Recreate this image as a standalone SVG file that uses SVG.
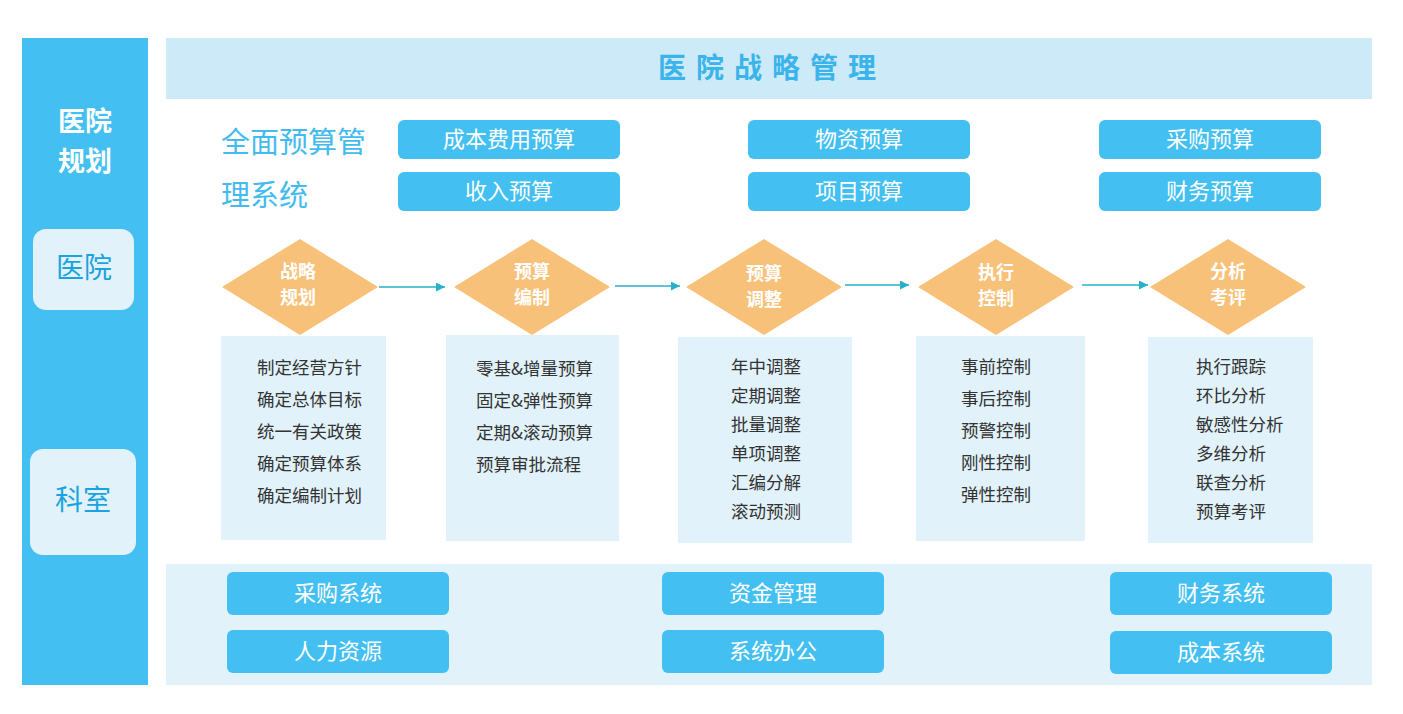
<svg xmlns="http://www.w3.org/2000/svg" width="1403" height="714" viewBox="0 0 1403 714">
<style>
text{font-family:"Noto Sans CJK SC","Noto Sans",sans-serif;dominant-baseline:central}
.side{fill:#43C0F1}
.wt{fill:#fff}
.btn{fill:#43C0F1}
.bt{fill:#fff;font-size:22px;text-anchor:middle}
.dia{fill:#F8C179}
.dt{fill:#fff;font-size:18px;font-weight:bold;text-anchor:middle}
.card{fill:#E1F2FB}
.ct{fill:#333;font-size:17.5px}
.con{stroke:#2AAFC8;stroke-width:1.3;fill:none}
</style>
<defs>
<marker id="ah" viewBox="0 0 10 10" refX="10" refY="5" markerWidth="9" markerHeight="9" markerUnits="userSpaceOnUse" orient="auto"><path d="M0,0 L10,5 L0,10 z" fill="#2AAFC8"/></marker>
</defs>
<rect width="1403" height="714" fill="#fff"/>
<g id="sidebar">
<rect class="side" x="22" y="38" width="126" height="647"/>
<text class="wt" x="85" y="119" font-size="27" font-weight="bold" text-anchor="middle">医院</text>
<text class="wt" x="85" y="159" font-size="27" font-weight="bold" text-anchor="middle">规划</text>
</g>
<g id="side-hospital">
<rect x="33" y="229" width="101" height="81" rx="13" fill="#E1F2FB"/>
<text x="84" y="266" font-size="28" fill="#1AA3E0" text-anchor="middle">医院</text>
</g>
<g id="side-dept">
<rect x="30" y="449" width="106" height="106" rx="13" fill="#E1F2FB"/>
<text x="83" y="498" font-size="28" fill="#1AA3E0" text-anchor="middle">科室</text>
</g>
<g id="header">
<rect x="166" y="38" width="1206" height="61" fill="#CDEAF9"/>
<text x="772" y="66" font-size="28" font-weight="bold" fill="#3AB4EA" text-anchor="middle" letter-spacing="10">医院战略管理</text>
</g>
<g id="budget-title">
<text x="221" y="140" font-size="29" fill="#43BBEE">全面预算管</text>
<text x="221" y="193" font-size="29" fill="#43BBEE">理系统</text>
</g>
<g id="budget-boxes">
<g id="b1"><rect class="btn" x="398" y="120" width="222" height="39" rx="6"/><text class="bt" x="509" y="137">成本费用预算</text></g>
<g id="b2"><rect class="btn" x="398" y="172" width="222" height="39" rx="6"/><text class="bt" x="509" y="189">收入预算</text></g>
<g id="b3"><rect class="btn" x="748" y="120" width="222" height="39" rx="6"/><text class="bt" x="859" y="137">物资预算</text></g>
<g id="b4"><rect class="btn" x="748" y="172" width="222" height="39" rx="6"/><text class="bt" x="859" y="189">项目预算</text></g>
<g id="b5"><rect class="btn" x="1099" y="120" width="222" height="39" rx="6"/><text class="bt" x="1210" y="137">采购预算</text></g>
<g id="b6"><rect class="btn" x="1099" y="172" width="222" height="39" rx="6"/><text class="bt" x="1210" y="189">财务预算</text></g>
</g>
<g id="connectors">
<line class="con" x1="379" y1="287" x2="445" y2="287" marker-end="url(#ah)"/>
<line class="con" x1="615" y1="286" x2="680" y2="286" marker-end="url(#ah)"/>
<line class="con" x1="845" y1="285" x2="909" y2="285" marker-end="url(#ah)"/>
<line class="con" x1="1082" y1="285" x2="1148" y2="285" marker-end="url(#ah)"/>
</g>
<g id="card1">
<rect class="card" x="221" y="336" width="165" height="204"/>
<text class="ct" x="257" y="366">制定经营方针</text>
<text class="ct" x="257" y="398">确定总体目标</text>
<text class="ct" x="257" y="430">统一有关政策</text>
<text class="ct" x="257" y="462">确定预算体系</text>
<text class="ct" x="257" y="494">确定编制计划</text>
</g>
<g id="card2">
<rect class="card" x="446" y="335" width="173" height="206"/>
<text class="ct" x="476" y="367">零基&amp;增量预算</text>
<text class="ct" x="476" y="399">固定&amp;弹性预算</text>
<text class="ct" x="476" y="431">定期&amp;滚动预算</text>
<text class="ct" x="476" y="463">预算审批流程</text>
</g>
<g id="card3">
<rect class="card" x="678" y="337" width="174" height="206"/>
<text class="ct" x="731" y="365">年中调整</text>
<text class="ct" x="731" y="394">定期调整</text>
<text class="ct" x="731" y="423">批量调整</text>
<text class="ct" x="731" y="452">单项调整</text>
<text class="ct" x="731" y="481">汇编分解</text>
<text class="ct" x="731" y="510">滚动预测</text>
</g>
<g id="card4">
<rect class="card" x="916" y="336" width="169" height="205"/>
<text class="ct" x="961" y="365">事前控制</text>
<text class="ct" x="961" y="397">事后控制</text>
<text class="ct" x="961" y="429">预警控制</text>
<text class="ct" x="961" y="461">刚性控制</text>
<text class="ct" x="961" y="493">弹性控制</text>
</g>
<g id="card5">
<rect class="card" x="1148" y="337" width="165" height="206"/>
<text class="ct" x="1196" y="365">执行跟踪</text>
<text class="ct" x="1196" y="394">环比分析</text>
<text class="ct" x="1196" y="423">敏感性分析</text>
<text class="ct" x="1196" y="452">多维分析</text>
<text class="ct" x="1196" y="481">联查分析</text>
<text class="ct" x="1196" y="510">预算考评</text>
</g>
<g id="d1"><polygon class="dia" points="222,287 300,239 378,287 300,335"/><text class="dt" x="298" y="270">战略</text><text class="dt" x="298" y="296">规划</text></g>
<g id="d2"><polygon class="dia" points="454,287 532,239 610,287 532,335"/><text class="dt" x="532" y="270">预算</text><text class="dt" x="532" y="296">编制</text></g>
<g id="d3"><polygon class="dia" points="686,287 764,239 842,287 764,335"/><text class="dt" x="764" y="272">预算</text><text class="dt" x="764" y="298">调整</text></g>
<g id="d4"><polygon class="dia" points="918,287 996,239 1074,287 996,335"/><text class="dt" x="996" y="271">执行</text><text class="dt" x="996" y="297">控制</text></g>
<g id="d5"><polygon class="dia" points="1150,287 1228,239 1306,287 1228,335"/><text class="dt" x="1228" y="270">分析</text><text class="dt" x="1228" y="296">考评</text></g>
<g id="systems">
<rect class="card" x="166" y="564" width="1206" height="121"/>
<g id="s1"><rect class="btn" x="227" y="572" width="222" height="43" rx="6"/><text class="bt" x="338" y="591">采购系统</text></g>
<g id="s2"><rect class="btn" x="227" y="630" width="222" height="43" rx="6"/><text class="bt" x="338" y="649">人力资源</text></g>
<g id="s3"><rect class="btn" x="662" y="572" width="222" height="43" rx="6"/><text class="bt" x="773" y="591">资金管理</text></g>
<g id="s4"><rect class="btn" x="662" y="630" width="222" height="43" rx="6"/><text class="bt" x="773" y="649">系统办公</text></g>
<g id="s5"><rect class="btn" x="1110" y="572" width="222" height="43" rx="6"/><text class="bt" x="1221" y="591">财务系统</text></g>
<g id="s6"><rect class="btn" x="1110" y="631" width="222" height="43" rx="6"/><text class="bt" x="1221" y="650">成本系统</text></g>
</g>
</svg>
